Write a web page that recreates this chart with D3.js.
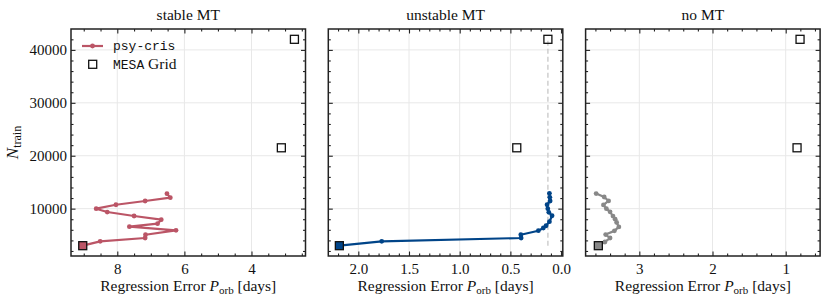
<!DOCTYPE html>
<html>
<head>
<meta charset="utf-8">
<script src="https://cdn.jsdelivr.net/npm/d3@7"></script>
<style>
  body { margin: 0; background: #fff; }
</style>
</head>
<body>
<div id="chart"></div>
<script>
// panel titles
var titles = ["stable MT", "unstable MT", "no MT"];

// psy-cris runs: training set size and regression error per class
var stableN = [3000, 3825, 4450, 5070, 5900, 6590, 7160, 7910, 8610, 9360, 9990, 10740, 11440, 12070, 12820];
var stableErr = [9.03, 8.51, 7.17, 7.16, 6.25, 7.64, 6.80, 6.69, 7.50, 8.30, 8.63, 8.04, 7.17, 6.42, 6.52];

var unstableN = [3000, 3825, 4450, 5070, 5830, 6340, 6770, 7530, 8660, 9300, 9990, 10740, 11440, 12140, 12900];
var unstableErr = [2.187, 1.769, 0.394, 0.397, 0.224, 0.175, 0.148, 0.115, 0.089, 0.121, 0.131, 0.138, 0.108, 0.111, 0.115];

var noMtN = [3000, 3700, 4450, 5100, 5800, 6550, 7400, 8000, 8600, 9400, 10000, 10700, 11450, 12200, 12850];
var noMtErr = [3.56, 3.47, 3.40, 3.46, 3.34, 3.28, 3.31, 3.33, 3.36, 3.40, 3.45, 3.49, 3.42, 3.48, 3.59];

// MESA grids
var gridN = [3000, 21500, 42000];
var stableGridErr = [9.03, 3.11, 2.72];
var unstableGridErr = [2.187, 0.437, 0.13];
var noMtGridErr = [3.56, 0.845, 0.804];

// axis limits and tick steps
var yLimits = [1050, 43950];
var yTicks = [10000, 20000, 30000, 40000];
var stableLimits = [9.38, 2.39];
var unstableLimits = [2.296, -0.017];
var noMtLimits = [3.734, 0.53];
var majorSteps = [2, 0.5, 1];
var minorSteps = [0.5, 0.1, 0.2];

var colors = ["#BB5566", "#004488", "#888888"];

var svgWidth = 830;
var svgHeight = 305;
var margin = { top: 29, left: 71 };
var panelWidth = 234.5;
var panelGap = 22.8;
var height = 227;
var majorLen = 4.5, minorLen = 2.5;
var serif = "Liberation Serif";
var mono = "Liberation Mono";

var svg = d3.select("#chart")
  .append("svg")
  .attr("width", svgWidth)
  .attr("height", svgHeight);

var yScale = d3.scaleLinear().domain(yLimits).range([height, 0]);

function stepTicks(domain, step) {
  var lo = Math.min(domain[0], domain[1]), hi = Math.max(domain[0], domain[1]);
  var out = [];
  for (var i = Math.ceil(lo / step - 1e-9); i * step <= hi + 1e-9; i++) {
    out.push(+(i * step).toFixed(6));
  }
  return out;
}

var panels = [
  { n: stableN, err: stableErr, gridErr: stableGridErr, limits: stableLimits },
  { n: unstableN, err: unstableErr, gridErr: unstableGridErr, limits: unstableLimits },
  { n: noMtN, err: noMtErr, gridErr: noMtGridErr, limits: noMtLimits }
];

var yMinor = stepTicks(yLimits, 2000);

panels.forEach(function(p, i) {
  var g = svg.append("g")
    .attr("transform", `translate(${margin.left + i * (panelWidth + panelGap)}, ${margin.top})`);

  var x = d3.scaleLinear().domain(p.limits).range([0, panelWidth]);
  var xMajor = stepTicks(p.limits, majorSteps[i]);
  var xMinor = stepTicks(p.limits, minorSteps[i]).filter(v => xMajor.indexOf(v) < 0);
  var color = colors[i];

  // grid
  g.append("g").selectAll("line").data(xMajor).enter().append("line")
    .attr("x1", d => x(d)).attr("x2", d => x(d))
    .attr("y1", 0).attr("y2", height)
    .attr("stroke", "#e8e8e8").attr("stroke-width", 1);
  g.append("g").selectAll("line").data(yTicks).enter().append("line")
    .attr("x1", 0).attr("x2", panelWidth)
    .attr("y1", d => yScale(d)).attr("y2", d => yScale(d))
    .attr("stroke", "#e8e8e8").attr("stroke-width", 1);

  // best grid reference (unstable MT only)
  if (i === 1) {
    var best = d3.min(p.gridErr);
    g.append("line")
      .attr("x1", x(best)).attr("x2", x(best))
      .attr("y1", yScale(gridN[0])).attr("y2", yScale(gridN[2]))
      .attr("stroke", "#cfcfcf").attr("stroke-width", 1.5)
      .attr("stroke-dasharray", "5,3");
  }

  var pts = p.n.map((d, k) => ({ n: d, e: p.err[k] }));
  var line = d3.line().x(d => x(d.e)).y(d => yScale(d.n));

  g.append("path")
    .datum(pts)
    .attr("fill", "none")
    .attr("stroke", color)
    .attr("stroke-width", 2.2)
    .attr("stroke-linejoin", "round")
    .attr("d", line);

  g.selectAll("circle.pt").data(pts).enter().append("circle")
    .attr("cx", d => x(d.e))
    .attr("cy", d => yScale(d.n))
    .attr("r", 2.4)
    .attr("fill", color);

  // MESA grid squares
  var gridPts = gridN.map((d, k) => ({ n: d, e: p.gridErr[k] }));
  g.selectAll("rect.grid").data(gridPts).enter().append("rect")
    .attr("x", d => x(d.e) - 4)
    .attr("y", d => yScale(d.n) - 4)
    .attr("width", 8).attr("height", 8)
    .attr("fill", (d, k) => k === 0 ? color : "none")
    .attr("stroke", "#111")
    .attr("stroke-width", 1.3);

  // ticks, all inward
  function tickSet(axisFn, scale, vals, len, fmt) {
    return axisFn(scale).tickValues(vals).tickSize(-len).tickSizeOuter(0).tickFormat(fmt);
  }
  var fmtX = i === 1 ? d3.format(".1f") : d3.format("~g");
  g.append("g").attr("transform", `translate(0, ${height})`)
    .call(tickSet(d3.axisBottom, x, xMinor, minorLen, ""));
  g.append("g").attr("transform", `translate(0, ${height})`)
    .call(tickSet(d3.axisBottom, x, xMajor, majorLen, fmtX).tickPadding(7));
  g.append("g").call(tickSet(d3.axisTop, x, xMinor, minorLen, ""));
  g.append("g").call(tickSet(d3.axisTop, x, xMajor, majorLen, ""));

  var yMinorOnly = yMinor.filter(v => yTicks.indexOf(v) < 0);
  g.append("g").call(tickSet(d3.axisLeft, yScale, yMinorOnly, minorLen, ""));
  g.append("g").call(tickSet(d3.axisLeft, yScale, yTicks, majorLen, i === 0 ? d3.format("d") : "").tickPadding(4));
  g.append("g").attr("transform", `translate(${panelWidth}, 0)`)
    .call(tickSet(d3.axisRight, yScale, yMinorOnly, minorLen, ""));
  g.append("g").attr("transform", `translate(${panelWidth}, 0)`)
    .call(tickSet(d3.axisRight, yScale, yTicks, majorLen, ""));

  g.selectAll(".domain").remove();
  g.selectAll(".tick line").attr("stroke", "#222").attr("stroke-width", 1.1);
  g.selectAll(".tick text")
    .attr("font-family", serif)
    .style("font-family", serif)
    .style("font-size", "15px")
    .attr("fill", "#111");

  // frame
  g.append("rect")
    .attr("width", panelWidth).attr("height", height)
    .attr("fill", "none").attr("stroke", "#222").attr("stroke-width", 1.5);

  // title
  g.append("text")
    .attr("x", panelWidth / 2).attr("y", -9)
    .attr("text-anchor", "middle")
    .attr("font-family", serif)
    .style("font-family", serif)
    .style("font-size", "15.5px")
    .attr("fill", "#111")
    .text(titles[i]);

  // x label
  var xl = g.append("text")
    .attr("x", panelWidth / 2).attr("y", height + 35)
    .attr("text-anchor", "middle")
    .attr("font-family", serif)
    .style("font-family", serif)
    .style("font-size", "15.5px")
    .attr("fill", "#111");
  xl.append("tspan").text("Regression Error ");
  xl.append("tspan").style("font-style", "italic").text("P");
  xl.append("tspan").attr("dy", 3).style("font-size", "11px").text("orb");
  xl.append("tspan").attr("dy", -3).text(" [days]");

  if (i === 0) {
    // y label
    var yl = g.append("text")
      .attr("transform", `translate(-53, ${height / 2}) rotate(-90)`)
      .attr("text-anchor", "middle")
      .attr("font-family", serif)
      .style("font-family", serif)
      .style("font-size", "17px")
      .attr("fill", "#111");
    yl.append("tspan").style("font-style", "italic").text("N");
    yl.append("tspan").attr("dy", 3).style("font-size", "12px").text("train");

    // legend
    var lg = g.append("g").attr("transform", "translate(11, 17)");
    lg.append("line").attr("x1", 0).attr("x2", 21).attr("y1", 0).attr("y2", 0)
      .attr("stroke", color).attr("stroke-width", 2.2);
    lg.append("circle").attr("cx", 10.5).attr("cy", 0).attr("r", 2.4).attr("fill", color);
    lg.append("text").attr("x", 31).attr("y", 4)
      .attr("font-family", mono)
      .style("font-family", mono)
      .style("font-size", "13px")
      .attr("fill", "#111")
      .text("psy-cris");
    lg.append("rect").attr("x", 6.7).attr("y", 14.3).attr("width", 8).attr("height", 8)
      .attr("fill", "none").attr("stroke", "#111").attr("stroke-width", 1.3);
    var t2 = lg.append("text").attr("x", 31).attr("y", 22.8)
      .attr("font-family", serif)
      .style("font-family", serif)
      .style("font-size", "15.5px")
      .attr("fill", "#111");
    t2.append("tspan").attr("font-family", mono).style("font-family", mono).style("font-size", "13px").text("MESA");
    t2.append("tspan").text(" Grid");
  }
});
</script>
</body>
</html>
